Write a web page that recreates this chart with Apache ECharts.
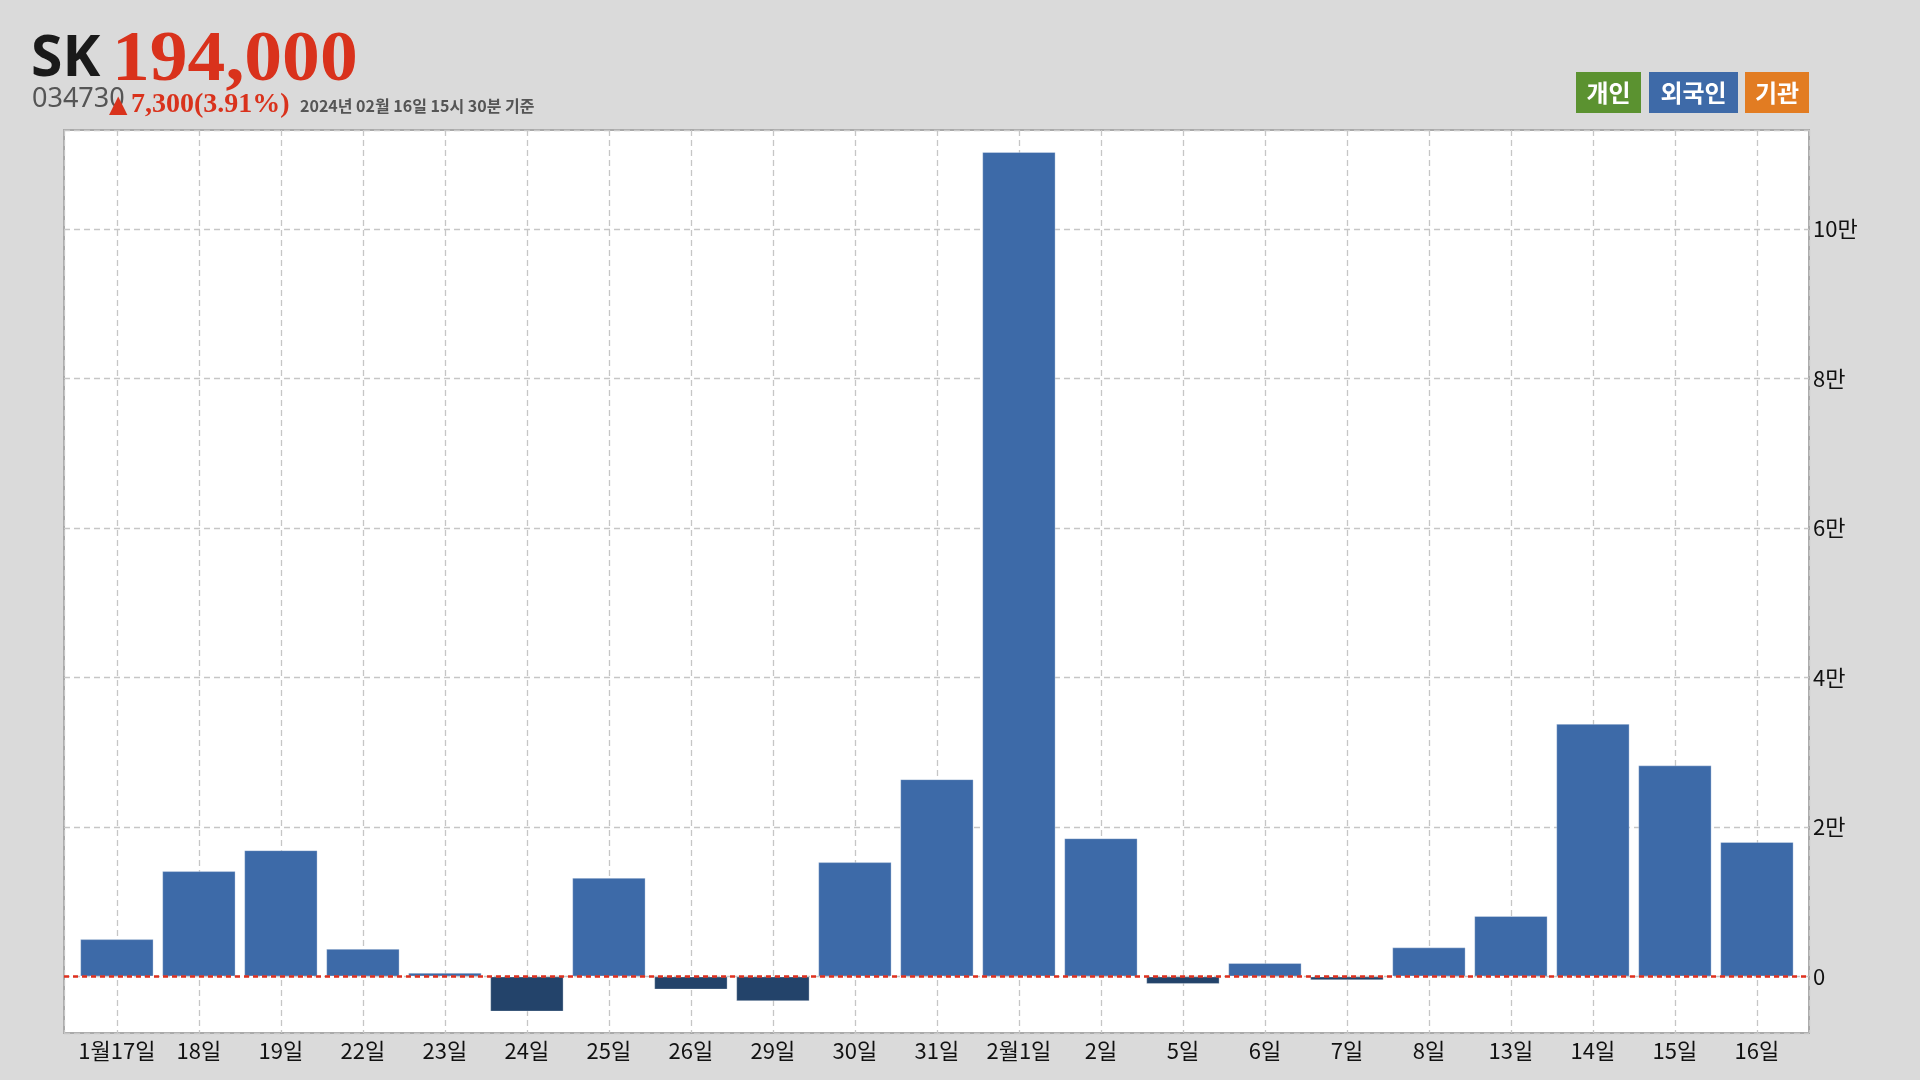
<!DOCTYPE html>
<html>
<head>
<meta charset="utf-8">
<title>SK 외국인 순매수</title>
<script src="https://cdn.jsdelivr.net/npm/echarts@6/dist/echarts.min.js"></script>
<style>
  html, body { margin: 0; padding: 0; background: #dadada; }
  #chart { width: 1920px; height: 1080px; }
</style>
</head>
<body>
<div id="chart"></div>
<script>
// ---- data ----
const categories = ['1월17일','18일','19일','22일','23일','24일','25일','26일','29일','30일','31일',
                    '2월1일','2일','5일','6일','7일','8일','13일','14일','15일','16일'];
const foreignNet = [5000, 14100, 16900, 3700, 500, -4700, 13200, -1750, -3300, 15300, 26400,
                    110300, 18500, -1000, 1800, -500, 3900, 8100, 33800, 28250, 18000];
const legendNames = ['개인', '외국인', '기관'];
const stockName = 'SK';
const stockPrice = '194,000';
const stockCode = '034730';
const priceChange = '7,300(3.91%)';
const asOfText = '2024년 02월 16일 15시 30분 기준';
const yUnit = '만';

// ---- styles ----
const posColor = '#3d6aa8';
const negColor = '#23436a';
const legendColors = ['#5b9230', '#3e6aa8', '#e27c22'];
const legendBoxes = [[1576, 65], [1649, 89], [1745, 64]];

const chart = echarts.init(document.getElementById('chart'), null, { renderer: 'canvas' });

const legendGraphics = legendNames.map((name, i) => ({
  type: 'group',
  x: legendBoxes[i][0], y: 72,
  children: [
    { type: 'rect', shape: { x: 0, y: 0, width: legendBoxes[i][1], height: 41 },
      style: { fill: legendColors[i] } },
    { type: 'text', x: legendBoxes[i][1] / 2, y: 21,
      style: { text: name, fill: '#fff', fontFamily: 'Noto Sans CJK KR', fontWeight: 'bold',
               fontSize: 24, textAlign: 'center', textVerticalAlign: 'middle' } }
  ]
}));

const option = {
  backgroundColor: '#dadada',
  animation: false,
  grid: {
    left: 64, right: 111, top: 130, bottom: 47,
    show: true, backgroundColor: '#ffffff', borderColor: '#a9a9a9', borderWidth: 2
  },
  xAxis: {
    type: 'value',
    min: -0.645, max: 20.635,
    minInterval: 1, maxInterval: 1, splitNumber: 20,
    axisLine: { show: false },
    axisTick: { show: false },
    axisLabel: {
      margin: 7, color: '#111', fontSize: 22, fontFamily: 'Noto Sans CJK KR',
      showMinLabel: false, showMaxLabel: false,
      formatter: v => (Number.isInteger(v) && categories[v] !== undefined) ? categories[v] : ''
    },
    splitLine: { show: true, lineStyle: { color: '#c6c6c6', width: 1.3, type: [6, 4] } }
  },
  yAxis: {
    type: 'value', position: 'right',
    min: -7560, max: 113240,
    minInterval: 20000, maxInterval: 20000, splitNumber: 6,
    axisLine: { show: false },
    axisTick: { show: false },
    axisLabel: {
      margin: 4, color: '#111', fontSize: 22, fontFamily: 'Noto Sans CJK KR',
      showMinLabel: false, showMaxLabel: false,
      formatter: v => (v % 20000 !== 0) ? '' : (v === 0 ? '0' : (v / 10000) + yUnit)
    },
    splitLine: { show: true, lineStyle: { color: '#c6c6c6', width: 1.3, type: [6, 4] } }
  },
  graphic: [
    { type: 'text', x: 31, y: 60, style: { text: stockName, fill: '#1a1a1a',
      fontFamily: 'Noto Sans', fontWeight: 'bold', fontSize: 57, textVerticalAlign: 'middle' } },
    { type: 'text', x: 112, y: 61, scaleX: 1.05, style: { text: stockPrice, fill: '#d9321c',
      fontFamily: 'Liberation Serif', fontWeight: 'bold', fontSize: 72, textVerticalAlign: 'middle' } },
    { type: 'text', x: 32, y: 99, style: { text: stockCode, fill: '#555',
      fontFamily: 'Noto Sans', fontSize: 27, textVerticalAlign: 'middle' } },
    { type: 'text', x: 109, y: 106, style: { text: '▲', fill: '#d9321c',
      fontFamily: 'DejaVu Sans', fontSize: 24, textVerticalAlign: 'middle' } },
    { type: 'text', x: 131, y: 105, style: { text: priceChange, fill: '#d9321c',
      fontFamily: 'Liberation Serif', fontWeight: 'bold', fontSize: 28, textVerticalAlign: 'middle' } },
    { type: 'text', x: 300, y: 106, style: { text: asOfText, fill: '#555',
      fontFamily: 'Noto Sans CJK KR', fontWeight: 'bold', fontSize: 16, textVerticalAlign: 'middle' } },
    ...legendGraphics
  ],
  series: [{
    type: 'bar',
    name: '외국인',
    barWidth: '89.5%',
    data: foreignNet.map((v, i) => [i, v]),
    itemStyle: {
      color: p => (p.value[1] < 0 ? negColor : posColor),
      borderColor: 'rgba(255,255,255,0.3)', borderWidth: 1
    },
    markLine: {
      silent: true, symbol: 'none', label: { show: false },
      lineStyle: { color: '#e0301e', width: 2.5, type: [5, 4] },
      data: [{ yAxis: 0 }]
    }
  }]
};
chart.setOption(option);
</script>
</body>
</html>
